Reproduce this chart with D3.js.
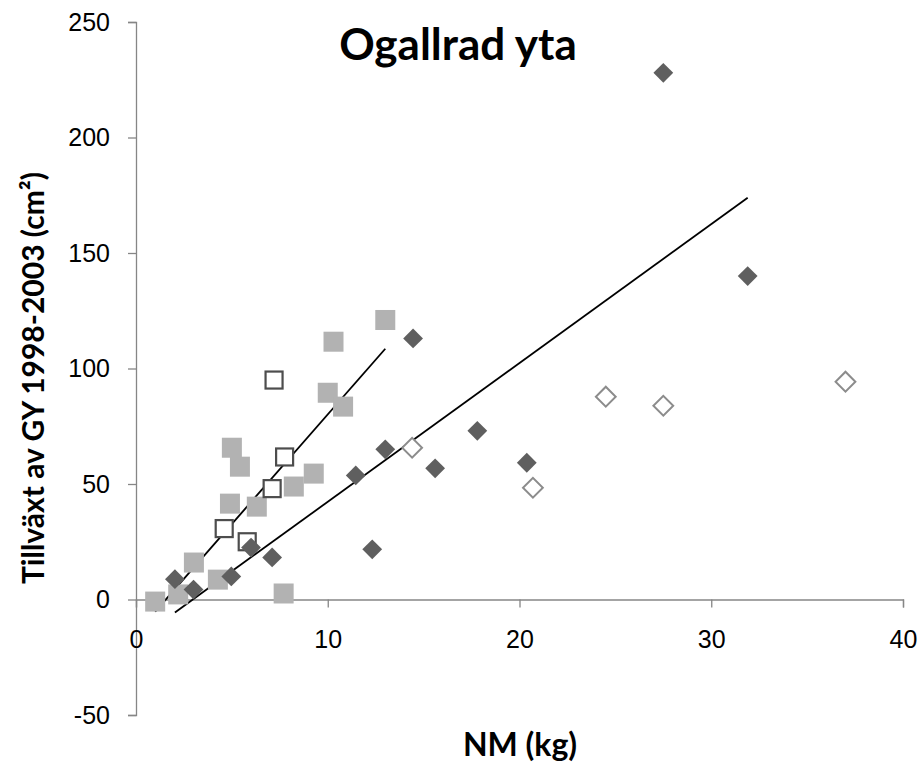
<!DOCTYPE html>
<html>
<head>
<meta charset="utf-8">
<script src="https://cdn.jsdelivr.net/npm/d3@7"></script>
<style>
  body { margin: 0; background: #fff; }
  svg { font-family: Lato, "Open Sans", sans-serif; }
</style>
</head>
<body>
<div id="chart"></div>
<script>
// données
const diamondsFilled = [
  [27.5, 228], [31.9, 140], [14.45, 113], [13.0, 65], [11.46, 53.7],
  [15.6, 56.8], [17.8, 73], [20.38, 59.2], [12.32, 21.7], [7.1, 18.2],
  [6.0, 22.5], [4.97, 10], [2.03, 8.8], [3.0, 4.3]
];
const diamondsOpen = [
  [14.4, 65.7], [20.7, 48.4], [24.5, 87.8], [27.5, 83.9], [37.0, 94.3]
];
const squaresFilled = [
  [13.0, 121], [10.3, 111.6], [10.0, 89.5], [10.8, 83.5], [5.0, 65.7],
  [5.42, 57.5], [9.27, 54.5], [8.23, 48.9], [4.9, 41.5], [6.3, 40.2],
  [3.02, 16], [4.27, 8.6], [7.7, 2.6], [1.0, -0.9], [2.2, 2.2]
];
const squaresOpen = [
  [7.2, 95], [7.75, 61.7], [7.1, 48], [4.6, 30.7], [5.8, 25]
];
// trendlinjer: [x0, x1, lutning, intercept]
const trendLines = [
  [1.0, 13.0, 9.48, -14.7],
  [2.03, 31.9, 6.01, -17.8]
];
const xTicks = [0, 10, 20, 30, 40];
const yTicks = [-50, 0, 50, 100, 150, 200, 250];

const W = 920, H = 762;
const margin = { top: 22, right: 17, bottom: 47, left: 136 };

const svg = d3.select("#chart").append("svg")
  .attr("width", W).attr("height", H);

const x = d3.scaleLinear().domain([0, 40]).range([margin.left, W - margin.right]);
const y = d3.scaleLinear().domain([-50, 250]).range([H - margin.bottom, margin.top]);

const axisColor = "#868686";

// axe Y
const yAxis = svg.append("g")
  .attr("transform", `translate(${x(0)},0)`)
  .call(d3.axisLeft(y).tickValues(yTicks).tickSize(8).tickPadding(18).tickFormat(d => String(d)));
yAxis.select(".domain").attr("stroke", axisColor).attr("stroke-width", 1.3);
yAxis.selectAll(".tick line").attr("stroke", axisColor).attr("stroke-width", 1.3);
yAxis.selectAll("text").attr("font-size", 25).attr("fill", "#000");

// axe X (croise à y=0)
const xAxis = svg.append("g")
  .attr("transform", `translate(0,${y(0)})`)
  .call(d3.axisBottom(x).tickValues(xTicks).tickSize(8).tickPadding(23).tickFormat(d => String(d)));
xAxis.select(".domain").attr("stroke", axisColor).attr("stroke-width", 1.3);
xAxis.selectAll(".tick line").attr("stroke", axisColor).attr("stroke-width", 1.3);
xAxis.selectAll("text").attr("font-size", 25).attr("fill", "#000");

// lignes de tendance
svg.selectAll(".trend")
  .data(trendLines)
  .enter()
  .append("line")
  .attr("x1", d => x(d[0]))
  .attr("y1", d => y(d[2] * d[0] + d[3]))
  .attr("x2", d => x(d[1]))
  .attr("y2", d => y(d[2] * d[1] + d[3]))
  .attr("stroke", "#000")
  .attr("stroke-width", 1.8);

// marqueurs
svg.selectAll(".sq")
  .data(squaresFilled)
  .enter()
  .append("rect")
  .attr("x", d => x(d[0]) - 10)
  .attr("y", d => y(d[1]) - 10)
  .attr("width", 20).attr("height", 20)
  .attr("fill", "#b2b2b2");

svg.selectAll(".sqo")
  .data(squaresOpen)
  .enter()
  .append("rect")
  .attr("x", d => x(d[0]) - 8.5)
  .attr("y", d => y(d[1]) - 8.5)
  .attr("width", 17).attr("height", 17)
  .attr("fill", "#fff")
  .attr("stroke", "#4d4d4d")
  .attr("stroke-width", 2.2);

svg.selectAll(".dm")
  .data(diamondsFilled)
  .enter()
  .append("rect")
  .attr("x", -7).attr("y", -7)
  .attr("width", 14).attr("height", 14)
  .attr("transform", d => `translate(${x(d[0])},${y(d[1])}) rotate(45)`)
  .attr("fill", "#5f5f5f");

svg.selectAll(".dmo")
  .data(diamondsOpen)
  .enter()
  .append("rect")
  .attr("x", -7).attr("y", -7)
  .attr("width", 14).attr("height", 14)
  .attr("transform", d => `translate(${x(d[0])},${y(d[1])}) rotate(45)`)
  .attr("fill", "#fff")
  .attr("stroke", "#8c8c8c")
  .attr("stroke-width", 2);

// titres
svg.append("text")
  .attr("x", 458).attr("y", 60)
  .attr("text-anchor", "middle")
  .attr("font-size", 44).attr("font-weight", "bold")
  .text("Ogallrad yta");

svg.append("text")
  .attr("x", 520).attr("y", 756)
  .attr("text-anchor", "middle")
  .attr("font-size", 32).attr("font-weight", "bold")
  .text("NM (kg)");

svg.append("text")
  .attr("transform", "translate(44,378) rotate(-90)")
  .attr("text-anchor", "middle")
  .attr("font-size", 30).attr("font-weight", "bold")
  .text("Tillväxt av GY 1998-2003 (cm²)");
</script>
</body>
</html>
